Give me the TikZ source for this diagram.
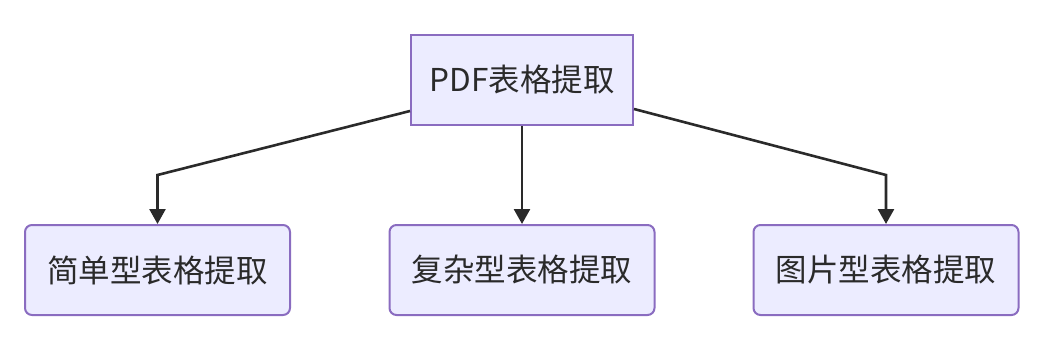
\documentclass[tikz,border=0pt]{standalone}
\usepackage{fontspec}
\setmainfont{Noto Sans CJK SC}
\usepackage{xcolor}
\usetikzlibrary{arrows.meta}
\definecolor{boxfill}{HTML}{ECECFF}
\definecolor{boxline}{HTML}{8A6CC0}
\definecolor{linecol}{HTML}{2A2A2A}

\begin{document}
\begin{tikzpicture}[x=1pt,y=1pt,>={Triangle[width=16pt,length=15pt]},
 box/.style={draw=boxline,fill=boxfill,line width=2pt,minimum height=90pt,inner sep=0pt,text=linecol,font=\fontsize{31.5}{36}\selectfont},
 root/.style={box,minimum width=222pt},
 leaf/.style={box,rounded corners=7pt,minimum width=265pt},
 link/.style={->,line width=2.6pt,draw=linecol}]
\useasboundingbox (0,0) rectangle (1044,-362);
\node[root] (extract) at (522,-80) {PDF表格提取};
\node[leaf] (simple) at (157.5,-270) {简单型表格提取};
\node[leaf] (complex) at (522,-270) {复杂型表格提取};
\node[leaf] (image) at (886,-270) {图片型表格提取};
\coordinate (bendL) at (157.5,-175);
\coordinate (bendR) at (886,-175);
\draw[link] ([yshift=-31pt]extract.west) -- (bendL) -- (simple.north);
\draw[link] (extract.south) -- (complex.north);
\draw[link] ([yshift=-29pt]extract.east) -- (bendR) -- (image.north);
\end{tikzpicture}
\end{document}
